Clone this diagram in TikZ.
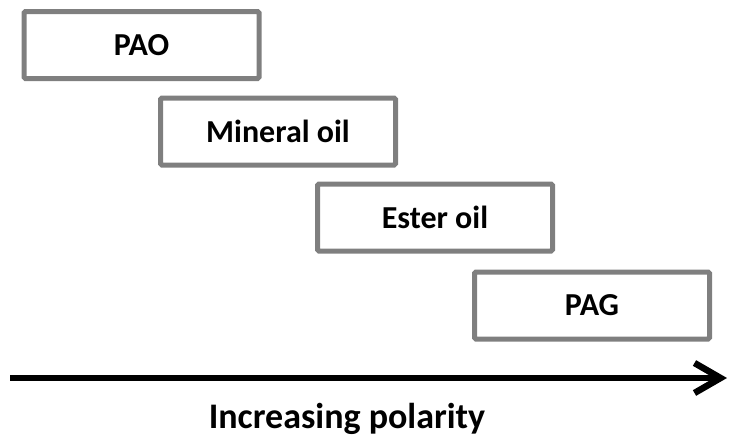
\documentclass[tikz,border=0pt]{standalone}
\usepackage{fontspec}
\setmainfont{Carlito}
\usetikzlibrary{arrows.meta}
\definecolor{boxgray}{RGB}{127,127,127}
\tikzset{
  oilbox/.style={draw=boxgray, line width=5pt, rounded corners=1.5pt,
    minimum width=235pt, minimum height=67pt, inner sep=0pt,
    font=\bfseries\fontsize{32}{38}\selectfont},
}
\begin{document}
\begin{tikzpicture}[x=1pt, y=-1pt]
    \useasboundingbox (0,0) rectangle (731,437);

    % the four oils, one step down and to the right each time
    \node[oilbox] (pao) at (141.5, 45) {PAO};
    \node[oilbox] (mineral) at (278, 131.5) {Mineral oil};
    \node[oilbox] (ester) at (435, 217.5) {Ester oil};
    \node[oilbox] (pag) at (592, 305.5) {PAG};

    % polarity axis
    \coordinate (axstart) at (10, 378);
    \coordinate (axend) at (727, 378);
    \draw[line width=6.5pt, -{Straight Barb[length=26pt, width=30pt]}] (axstart) -- (axend);

    \node[anchor=base, font=\bfseries\fontsize{36}{42}\selectfont] (polarity) at (347, 428) {Increasing polarity};
\end{tikzpicture}
\end{document}
